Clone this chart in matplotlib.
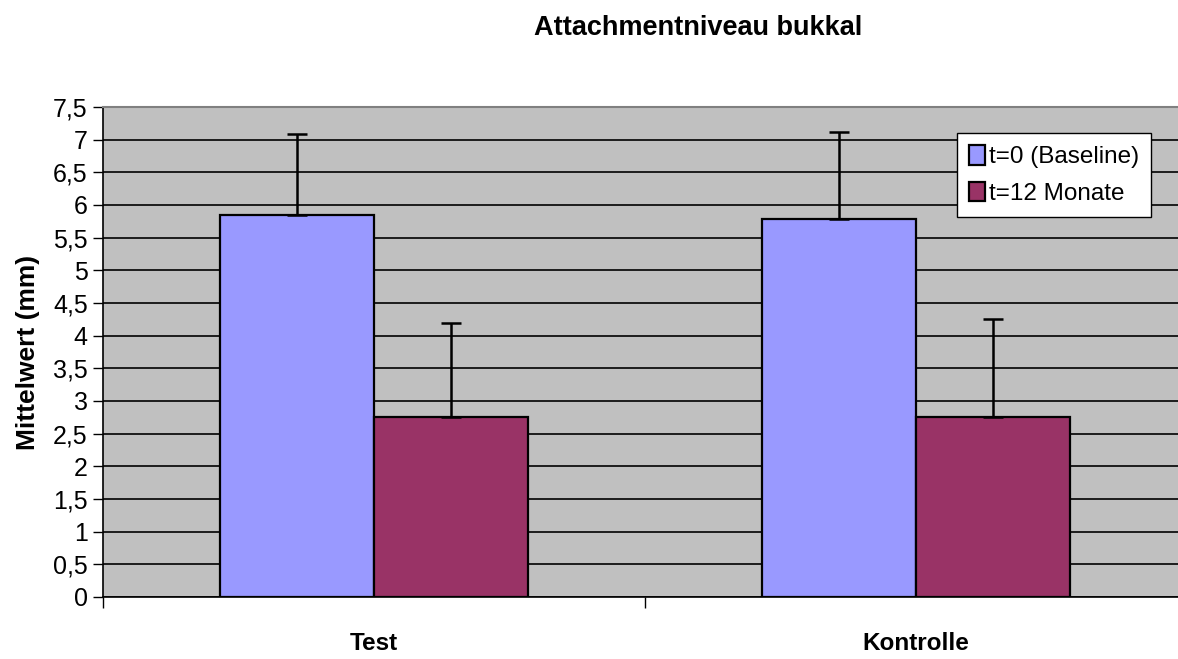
#!/usr/bin/env python3

import numpy as np
import matplotlib
matplotlib.use("Agg")
import matplotlib.pyplot as plt

groups = ["Test", "Kontrolle"]
series = ["t=0 (Baseline)", "t=12 Monate"]
baseline = [5.85, 5.78]
baseline_err = [1.24, 1.33]
month12 = [2.76, 2.76]
month12_err = [1.43, 1.50]
yticks = [0, 0.5, 1, 1.5, 2, 2.5, 3, 3.5, 4, 4.5, 5, 5.5, 6, 6.5, 7, 7.5]
ytick_labels = ["0", "0,5", "1", "1,5", "2", "2,5", "3", "3,5", "4", "4,5",
                "5", "5,5", "6", "6,5", "7", "7,5"]

plt.rcParams["font.family"] = ["Liberation Sans", "DejaVu Sans"]

W, H = 1178, 659
fig = plt.figure(figsize=(W / 100, H / 100), dpi=100)
ax = fig.add_axes([103 / W, 1 - 597 / H, (1187 - 103) / W, (597 - 107) / H])
ax.set_facecolor("#C0C0C0")

x = np.arange(len(groups))
bw = 0.285
ekw = dict(elinewidth=1.8, capthick=1.8, ecolor="black")
ax.bar(x - bw / 2, baseline, bw, color="#9999FF", edgecolor="black", linewidth=1.6,
       yerr=[np.zeros(2), baseline_err], capsize=7, error_kw=ekw, label=series[0], zorder=3)
ax.bar(x + bw / 2, month12, bw, color="#993366", edgecolor="black", linewidth=1.6,
       yerr=[np.zeros(2), month12_err], capsize=7, error_kw=ekw, label=series[1], zorder=3)

ax.set_xlim(-0.5, 1.5)
ax.set_ylim(0, 7.5)
ax.set_yticks(yticks)
ax.set_yticklabels(ytick_labels, fontsize=18)
ax.yaxis.grid(True, color="black", linewidth=1.2, zorder=1)
ax.set_axisbelow(True)
ax.tick_params(axis="y", direction="out", length=7, width=1, pad=4)

ax.set_xticks(x)
ax.set_xticklabels(groups, fontsize=17.5, fontweight="bold")
ax.tick_params(axis="x", which="major", length=0, pad=25)
ax.set_xticks([-0.5, 0.5, 1.5], minor=True)
ax.tick_params(axis="x", which="minor", direction="out", length=8, width=1)

ax.spines["left"].set_color("black")
ax.spines["left"].set_linewidth(1.2)
ax.spines["bottom"].set_color("black")
ax.spines["bottom"].set_linewidth(1.2)
ax.spines["top"].set_color("#808080")
ax.spines["top"].set_linewidth(1.5)
ax.spines["right"].set_visible(False)

ax.set_ylabel("Mittelwert (mm)", fontsize=19, fontweight="bold")
ax.yaxis.set_label_coords(-63 / (1187 - 103), 0.5)

fig.text(698 / W, 1 - 28 / H, "Attachmentniveau bukkal", fontsize=19.5,
         fontweight="bold", ha="center", va="center")

leg = ax.legend(loc="upper left", bbox_to_anchor=(957 / W, 1 - 133 / H),
                bbox_transform=fig.transFigure, fontsize=17.5, frameon=True,
                fancybox=False, edgecolor="black", handlelength=0.65,
                handleheight=0.85, handletextpad=0.15, borderpad=0.5,
                labelspacing=0.55, borderaxespad=0)
leg.get_frame().set_linewidth(1.0)
leg.get_frame().set_facecolor("white")
leg.get_frame().set_alpha(1)

fig.savefig("out.png", dpi=100)
